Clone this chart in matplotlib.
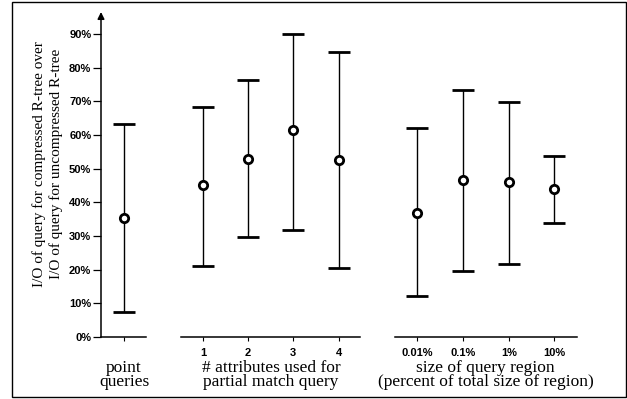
"""Error-bar chart: I/O ratio of compressed vs. uncompressed R-tree queries."""
from __future__ import annotations

import matplotlib

matplotlib.use("Agg")

import matplotlib.pyplot as plt
from matplotlib.patches import Rectangle
from matplotlib.transforms import blended_transform_factory


# values (percent)
point_labels = [""]
point_mean = [35.2]
point_low = [7.4]
point_high = [63.2]

attr_labels = ["1", "2", "3", "4"]
attr_mean = [45.1, 53.0, 61.6, 52.7]
attr_low = [21.2, 29.8, 31.8, 20.4]
attr_high = [68.4, 76.3, 90.1, 84.7]

region_labels = ["0.01%", "0.1%", "1%", "10%"]
region_mean = [36.7, 46.6, 45.9, 43.9]
region_low = [12.3, 19.6, 21.6, 33.9]
region_high = [62.1, 73.3, 69.8, 53.8]

y_ticks = [0, 10, 20, 30, 40, 50, 60, 70, 80, 90]

group_titles = [
    "point\nqueries",
    "# attributes used for\npartial match query",
    "size of query region\n(percent of total size of region)",
]
y_label = "I/O of query for compressed R-tree over\nI/O of query for uncompressed R-tree"

# layout (horizontal positions in pixel-like units along the axis)
W, H = 627, 399
X0, X1 = 101, 600
GROUP_POS = [[124], [203, 248, 293, 339], [417, 463, 509, 554]]
GROUP_SPAN = [(101, 146), (181, 360), (395, 577)]
Y_TOP = 96.5

SERIF = ["Liberation Serif", "DejaVu Serif"]
SANS = ["Liberation Sans", "DejaVu Sans"]


def main() -> None:
    fig = plt.figure(figsize=(W / 100, H / 100), dpi=100)
    ax = fig.add_axes([X0 / W, (H - 337) / H, (X1 - X0) / W, (337 - 12) / H])
    ax.set_xlim(X0, X1)
    ax.set_ylim(0, Y_TOP)
    for side in ("top", "right", "bottom", "left"):
        ax.spines[side].set_visible(False)

    # outer frame
    fig.patches.append(
        Rectangle((12 / W, 2 / H), 614 / W, 395 / H, transform=fig.transFigure,
                  fill=False, edgecolor="black", linewidth=1.0)
    )

    # vertical axis with arrow head
    ax.annotate("", xy=(X0, Y_TOP), xytext=(X0, 0), xycoords="data",
                arrowprops=dict(arrowstyle="-|>", color="black", lw=1.1,
                                mutation_scale=10, shrinkA=0, shrinkB=0),
                annotation_clip=False)

    groups = [
        (point_mean, point_low, point_high),
        (attr_mean, attr_low, attr_high),
        (region_mean, region_low, region_high),
    ]
    for pos, (mean, low, high), span in zip(GROUP_POS, groups, GROUP_SPAN):
        yerr = [[m - lo for m, lo in zip(mean, low)], [hi - m for m, hi in zip(mean, high)]]
        ax.errorbar(pos, mean, yerr=yerr, fmt="o", color="black", ecolor="black",
                    elinewidth=1.0, capsize=8, capthick=0.9, markersize=6,
                    markerfacecolor="white", markeredgecolor="black",
                    markeredgewidth=2.0, clip_on=False, zorder=3)
        ax.plot(span, [0, 0], color="black", lw=1.1, clip_on=False)

    xticks = [p for grp in GROUP_POS for p in grp]
    ax.set_xticks(xticks)
    ax.set_xticklabels(point_labels + attr_labels + region_labels, fontfamily=SANS,
                       fontsize=8, fontweight="bold")
    ax.tick_params(axis="x", direction="out", length=3, width=0.8, pad=5)

    ax.set_yticks(y_ticks)
    ax.set_yticklabels([f"{v}%" for v in y_ticks], fontfamily=SANS, fontsize=8,
                       fontweight="bold")
    ax.tick_params(axis="y", direction="out", length=6, width=0.9, pad=1)

    trans = blended_transform_factory(ax.transData, fig.transFigure)
    for pos, title in zip(GROUP_POS, group_titles):
        cx = (pos[0] + pos[-1]) / 2
        ax.text(cx, (H - 375) / H, title, transform=trans, ha="center", va="center",
                multialignment="center", fontfamily=SERIF, fontsize=12.5, linespacing=0.9)

    fig.text(48 / W, (H - 164) / H, y_label, rotation=90, ha="center", va="center",
             multialignment="center", fontfamily=SERIF, fontsize=11, linespacing=1.3)

    fig.savefig("out.png", dpi=100)
    plt.close(fig)


if __name__ == "__main__":
    main()
